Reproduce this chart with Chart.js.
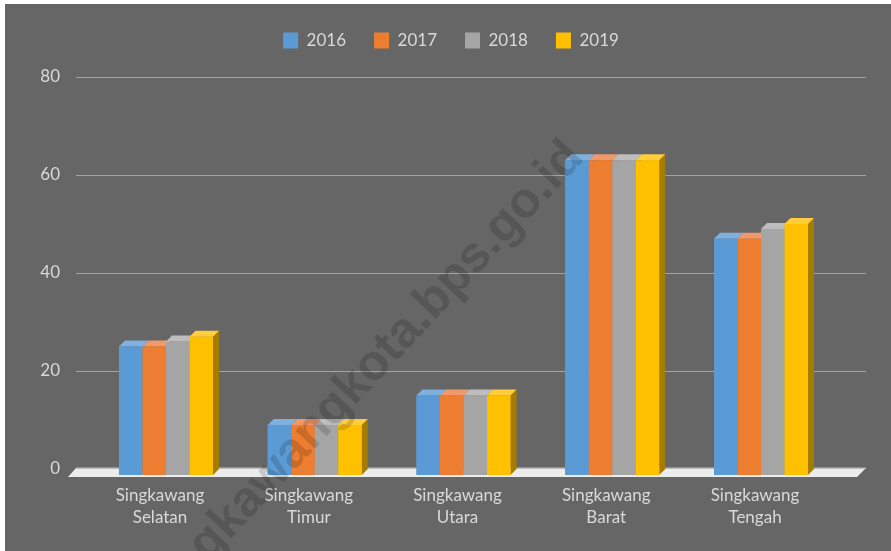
<!DOCTYPE html>
<html><head><meta charset="utf-8">
<script src="https://cdn.jsdelivr.net/npm/chart.js@4.4.1/dist/chart.umd.min.js"></script>
<style>
html,body{margin:0;padding:0;background:#ffffff;width:891px;height:551px;overflow:hidden}
#wrap{position:absolute;left:5px;top:4px;width:886px;height:547px;background:#666666}
canvas{display:block}
</style></head><body>
<div id="wrap"><canvas id="c" width="886" height="547"></canvas></div>
<script>
const categories = [["Singkawang","Selatan"],["Singkawang","Timur"],["Singkawang","Utara"],["Singkawang","Barat"],["Singkawang","Tengah"]];
const years = ["2016","2017","2018","2019"];
const v2016 = [25, 9, 15, 63, 47];
const v2017 = [25, 9, 15, 63, 47];
const v2018 = [26, 9, 15, 63, 49];
const v2019 = [27, 9, 15, 63, 50];
const yTicks = [0, 20, 40, 60, 80];
const watermark = "singkawangkota.bps.go.id";

const frontColors = ["#5B9BD5", "#ED7D31", "#A5A5A5", "#FFC000"];
const topColors   = ["#7FB0DE", "#F1996A", "#BDBDBD", "#FFCE3A"];
const sideColors  = ["#3F77AA", "#B85A1E", "#7A7A7A", "#A67C00"];
const textColor = "#D9D9D9";
const FONT = "Lato, 'Open Sans', 'Liberation Sans', sans-serif";
const D = 6;
const RIGHT_PAD = 55.6;

const bars3d = {
  id: 'bars3d',
  beforeInit(chart) {
    const fit = chart.legend.fit;
    chart.legend.fit = function () { fit.bind(chart.legend)(); this.height += 18; };
  },
  afterLayout(chart) {
    const lg = chart.legend;
    lg.left += RIGHT_PAD / 2 + 3;
    lg.right += RIGHT_PAD / 2 + 3;
  },
  beforeDatasetsDraw(chart) {
    const {ctx, chartArea: ca, scales: {y}} = chart;
    ctx.save();
    ctx.strokeStyle = '#A3A3A3';
    ctx.lineWidth = 1;
    const gl = ca.left - 15.6, gr = ca.right + 30.6;
    yTicks.forEach(t => {
      if (t === 0) return;
      const py = Math.round(y.getPixelForValue(t)) + 0.5;
      ctx.beginPath(); ctx.moveTo(gl, py); ctx.lineTo(gr, py); ctx.stroke();
    });
    const z = y.getPixelForValue(0);
    ctx.fillStyle = '#ECECEC';
    ctx.beginPath();
    ctx.moveTo(gl, z - 1); ctx.lineTo(gr, z - 1); ctx.lineTo(gr - 9, z + 8); ctx.lineTo(gl - 8, z + 8);
    ctx.closePath(); ctx.fill();
    ctx.fillStyle = '#BDBDBD';
    ctx.fillRect(gl, z - 1.5, gr - gl, 1.5);
    ctx.restore();
  },
  afterDatasetsDraw(chart) {
    const {ctx} = chart;
    ctx.save();
    const n = chart.data.labels.length;
    for (let j = 0; j < n; j++) {
      for (let i = 0; i < chart.data.datasets.length; i++) {
        const el = chart.getDatasetMeta(i).data[j];
        const {x, y, base, width} = el.getProps(['x', 'y', 'base', 'width'], true);
        const l = x - width / 2, r = x + width / 2;
        ctx.fillStyle = sideColors[i];
        ctx.beginPath();
        ctx.moveTo(r, y); ctx.lineTo(r + D, y - D); ctx.lineTo(r + D, base - D); ctx.lineTo(r, base);
        ctx.closePath(); ctx.fill();
        ctx.fillStyle = topColors[i];
        ctx.beginPath();
        ctx.moveTo(l, y); ctx.lineTo(l + D, y - D); ctx.lineTo(r + D, y - D); ctx.lineTo(r, y);
        ctx.closePath(); ctx.fill();
        ctx.fillStyle = frontColors[i];
        ctx.fillRect(l, y, width, base - y);
      }
    }
    ctx.restore();
  },
  afterDraw(chart) {
    const {ctx} = chart;
    ctx.save();
    ctx.translate(357, 374);
    ctx.rotate(-47 * Math.PI / 180);
    ctx.font = "bold 50px 'Liberation Sans', Arial, sans-serif";
    ctx.fillStyle = 'rgba(0,0,0,0.15)';
    ctx.textAlign = 'center';
    ctx.textBaseline = 'middle';
    ctx.fillText(watermark, 0, 0);
    ctx.restore();
  }
};

const series = [v2016, v2017, v2018, v2019];
new Chart(document.getElementById('c'), {
  type: 'bar',
  data: {
    labels: categories,
    datasets: years.map((yr, i) => ({
      label: yr,
      data: series[i],
      backgroundColor: frontColors[i],
      borderWidth: 0,
      base: -1.22,
      clip: false,
      categoryPercentage: 0.632,
      barPercentage: 1
    }))
  },
  options: {
    responsive: false,
    animation: false,
    events: [],
    layout: {padding: {top: 0, left: 0, right: RIGHT_PAD, bottom: 0}},
    plugins: {
      tooltip: {enabled: false},
      legend: {
        position: 'top',
        labels: {
          color: textColor,
          font: {family: FONT, size: 17},
          boxWidth: 15,
          boxHeight: 16,
          padding: 28
        }
      }
    },
    scales: {
      x: {
        grid: {display: false, drawTicks: false},
        border: {display: false},
        ticks: {color: textColor, font: {family: FONT, size: 17, lineHeight: 1.3}, padding: 15, labelOffset: -6, maxRotation: 0},
        afterFit(s) { s.height = 82; }
      },
      y: {
        min: 0, max: 80,
        grid: {display: false, drawTicks: false},
        border: {display: false},
        ticks: {stepSize: 20, color: textColor, font: {family: FONT, size: 17}, padding: 31.6},
        afterFit(s) { s.width = 86.6; }
      }
    }
  },
  plugins: [bars3d]
});
</script>
</body></html>
